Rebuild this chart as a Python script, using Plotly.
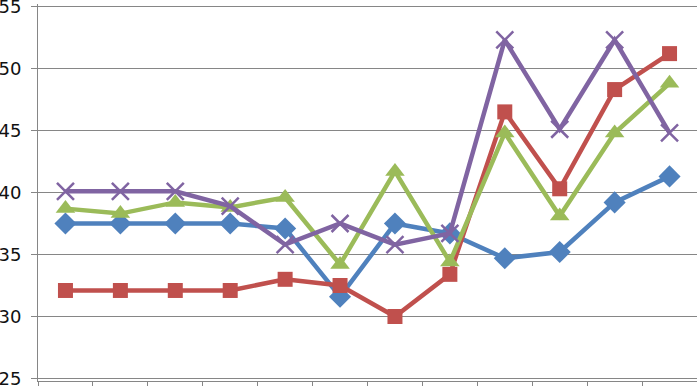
import plotly.graph_objects as go

categories = [str(i) for i in range(1, 13)]
series_blue = [37.5, 37.5, 37.5, 37.5, 37.1, 31.6, 37.5, 36.7, 34.7, 35.2, 39.2, 41.3]
series_red = [32.1, 32.1, 32.1, 32.1, 33.0, 32.5, 30.0, 33.4, 46.5, 40.3, 48.3, 51.2]
series_green = [38.7, 38.3, 39.2, 38.8, 39.6, 34.2, 41.7, 34.4, 44.8, 38.1, 44.8, 48.8]
series_purple = [40.1, 40.1, 40.1, 38.9, 35.8, 37.5, 35.8, 36.7, 52.3, 45.1, 52.3, 44.8]
y_ticks = [25, 30, 35, 40, 45, 50, 55]

fig = go.Figure()
fig.add_trace(go.Scatter(x=categories, y=series_blue, mode="lines+markers",
                         line=dict(color="#4F81BD", width=4.5),
                         marker=dict(symbol="diamond", size=17, color="#4F81BD")))
fig.add_trace(go.Scatter(x=categories, y=series_red, mode="lines+markers",
                         line=dict(color="#C0504D", width=4.5),
                         marker=dict(symbol="square", size=15, color="#C0504D")))
fig.add_trace(go.Scatter(x=categories, y=series_green, mode="lines+markers",
                         line=dict(color="#9BBB59", width=4.5),
                         marker=dict(symbol="triangle-up", size=17, color="#9BBB59")))
fig.add_trace(go.Scatter(x=categories, y=series_purple, mode="lines+markers",
                         line=dict(color="#8064A2", width=4.5),
                         marker=dict(symbol="x-thin", size=17,
                                     line=dict(color="#8064A2", width=2.5))))

fig.update_layout(
    width=697, height=386,
    margin=dict(l=38.3, r=0, t=4.2, b=5.2, autoexpand=False),
    paper_bgcolor="white", plot_bgcolor="white",
    showlegend=False,
    font=dict(family="DejaVu Sans", size=18, color="#111111"),
)
fig.update_xaxes(
    type="category", range=[-0.5, 11.5], showgrid=False,
    showline=True, linecolor="#868686", linewidth=1,
    ticks="outside", tickson="boundaries", ticklen=9, tickcolor="#868686",
    showticklabels=False, automargin=False,
)
fig.update_yaxes(
    range=[24.8, 55.2], tickvals=y_ticks, showgrid=True, gridcolor="#868686", gridwidth=1,
    showline=True, linecolor="#868686", linewidth=1,
    ticks="outside", ticklen=6, tickcolor="#868686",
    ticklabelstandoff=6, ticklabeloverflow="allow", zeroline=False, automargin=False,
)

fig.write_html("out.html", config={"displayModeBar": False},
               post_script="document.body.style.margin='0';document.body.style.overflow='hidden';")
